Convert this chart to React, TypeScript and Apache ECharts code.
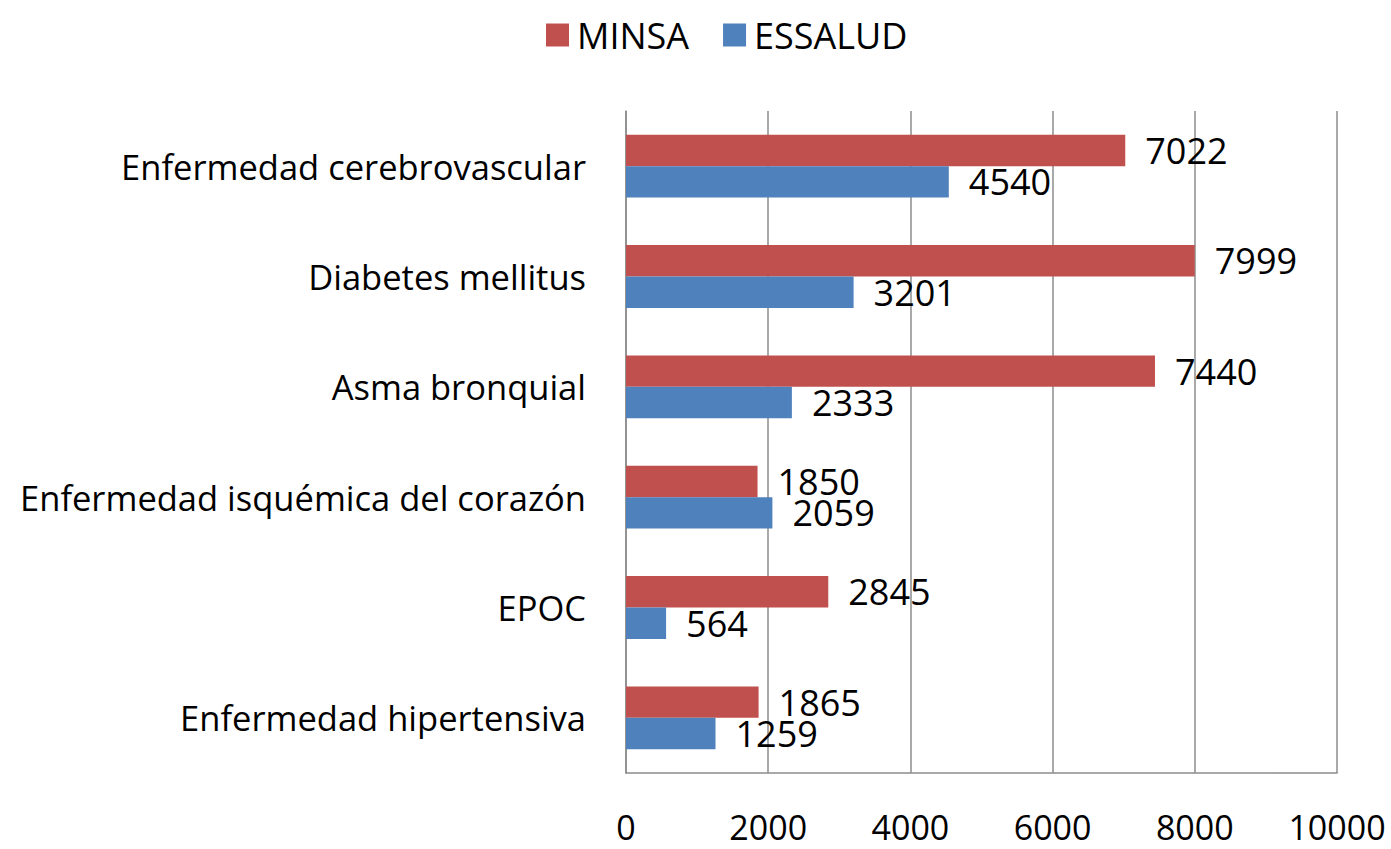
import React, { useEffect, useRef } from "react";
import * as echarts from "echarts";

const categories = [
  "Enfermedad hipertensiva",
  "EPOC",
  "Enfermedad isquémica del corazón",
  "Asma bronquial",
  "Diabetes mellitus",
  "Enfermedad cerebrovascular",
];
const minsa = [1865, 2845, 1850, 7440, 7999, 7022];
const essalud = [1259, 564, 2059, 2333, 3201, 4540];
const xTicks = [0, 2000, 4000, 6000, 8000, 10000];

const FONT = "Open Sans";

export default function App() {
  const ref = useRef<HTMLDivElement>(null);
  useEffect(() => {
    if (!ref.current) return;
    const chart = echarts.init(ref.current, null, { renderer: "svg" });
    chart.setOption({
      animation: false,
      textStyle: { fontFamily: FONT, color: "#000" },
      legend: {
        top: 12,
        left: 541,
        itemWidth: 23,
        itemHeight: 23,
        itemGap: 34,
        icon: "rect",
        textStyle: { fontSize: 36, color: "#000", fontFamily: FONT, padding: [0, 0, 0, 3] },
        data: ["MINSA", "ESSALUD"],
      },
      grid: { left: 626, right: 54, top: 111, bottom: 76, containLabel: false },
      xAxis: {
        type: "value",
        min: xTicks[0],
        max: xTicks[xTicks.length - 1],
        interval: 2000,
        axisLine: { show: true, lineStyle: { color: "#8c8c8c", width: 1.5 } },
        axisTick: { show: false },
        splitLine: { show: true, lineStyle: { color: "#8c8c8c", width: 1.5 } },
        axisLabel: {
          fontSize: 34,
          color: "#000",
          margin: 37,
          fontFamily: FONT,
          lineHeight: 34,
          formatter: (v: number) => String(v),
        },
      },
      yAxis: {
        type: "category",
        data: categories,
        axisLine: { show: true, lineStyle: { color: "#8c8c8c", width: 1.5 } },
        axisTick: { show: false },
        axisLabel: { fontSize: 34.5, color: "#000", margin: 40, fontFamily: FONT },
      },
      series: [
        {
          name: "MINSA",
          type: "bar",
          data: minsa,
          itemStyle: { color: "#C0504D" },
          barCategoryGap: "43%",
          barGap: "0%",
          label: { show: true, position: "right", distance: 20, fontSize: 36, color: "#000", fontFamily: FONT },
        },
        {
          name: "ESSALUD",
          type: "bar",
          data: essalud,
          itemStyle: { color: "#4F81BD" },
          barCategoryGap: "43%",
          barGap: "0%",
          label: { show: true, position: "right", distance: 20, fontSize: 36, color: "#000", fontFamily: FONT },
        },
      ],
    });
    return () => chart.dispose();
  }, []);
  return <div ref={ref} style={{ width: 1391, height: 849, position: "absolute", left: 0, top: 0 }} />;
}
